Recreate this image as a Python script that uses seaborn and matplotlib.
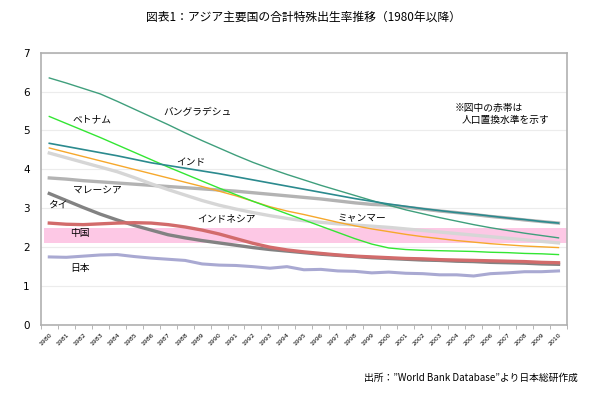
import matplotlib
matplotlib.use("Agg")
import matplotlib.pyplot as plt
import numpy as np
import pandas as pd
import seaborn as sns

# data: total fertility rate by country, 1980-2010
years = list(range(1980, 2011))

bangladesh = [6.35, 6.22, 6.08, 5.94, 5.75, 5.55, 5.35, 5.15, 4.94, 4.74, 4.55,
              4.36, 4.18, 4.02, 3.87, 3.73, 3.59, 3.46, 3.33, 3.20, 3.08,
              2.96, 2.86, 2.76, 2.67, 2.58, 2.50, 2.43, 2.36, 2.30, 2.24]
india = [4.67, 4.59, 4.51, 4.43, 4.35, 4.26, 4.17, 4.10, 4.03, 3.96, 3.89,
         3.81, 3.73, 3.65, 3.57, 3.49, 3.41, 3.33, 3.25, 3.18, 3.11,
         3.05, 2.99, 2.94, 2.89, 2.85, 2.80, 2.75, 2.71, 2.66, 2.62]
vietnam = [5.36, 5.18, 5.00, 4.82, 4.63, 4.44, 4.25, 4.06, 3.88, 3.70, 3.52,
           3.35, 3.18, 3.02, 2.86, 2.70, 2.54, 2.38, 2.22, 2.08, 1.98,
           1.94, 1.92, 1.91, 1.90, 1.89, 1.87, 1.86, 1.84, 1.83, 1.81]
myanmar = [4.55, 4.44, 4.33, 4.22, 4.11, 4.00, 3.89, 3.78, 3.67, 3.56, 3.44,
           3.32, 3.18, 3.04, 2.93, 2.84, 2.74, 2.64, 2.55, 2.47, 2.40,
           2.33, 2.27, 2.22, 2.17, 2.13, 2.09, 2.06, 2.03, 2.01, 1.99]
indonesia = [4.42, 4.30, 4.18, 4.06, 3.94, 3.79, 3.63, 3.48, 3.34, 3.20, 3.08,
             2.98, 2.89, 2.81, 2.74, 2.68, 2.64, 2.60, 2.57, 2.54, 2.51,
             2.47, 2.43, 2.39, 2.35, 2.31, 2.27, 2.23, 2.19, 2.15, 2.11]
malaysia = [3.78, 3.75, 3.71, 3.68, 3.65, 3.62, 3.59, 3.56, 3.53, 3.50, 3.47,
            3.44, 3.40, 3.36, 3.32, 3.28, 3.24, 3.19, 3.14, 3.10, 3.08,
            3.03, 2.98, 2.93, 2.89, 2.84, 2.79, 2.75, 2.70, 2.66, 2.62]
thailand = [3.38, 3.20, 3.02, 2.85, 2.70, 2.56, 2.44, 2.32, 2.24, 2.17, 2.11,
            2.05, 1.99, 1.94, 1.90, 1.86, 1.82, 1.79, 1.76, 1.73, 1.71,
            1.69, 1.67, 1.66, 1.64, 1.63, 1.61, 1.60, 1.59, 1.57, 1.56]
china = [2.62, 2.59, 2.58, 2.60, 2.62, 2.63, 2.62, 2.58, 2.52, 2.44, 2.34,
         2.22, 2.10, 2.00, 1.93, 1.88, 1.84, 1.80, 1.77, 1.75, 1.73,
         1.71, 1.70, 1.68, 1.67, 1.66, 1.65, 1.64, 1.63, 1.61, 1.60]
japan = [1.75, 1.74, 1.77, 1.80, 1.81, 1.76, 1.72, 1.69, 1.66, 1.57, 1.54,
         1.53, 1.50, 1.46, 1.50, 1.42, 1.43, 1.39, 1.38, 1.34, 1.36,
         1.33, 1.32, 1.29, 1.29, 1.26, 1.32, 1.34, 1.37, 1.37, 1.39]

# replacement level band
band_low, band_high = 2.1, 2.5

plt.rcParams['font.family'] = ['Noto Sans CJK JP', 'DejaVu Sans']

# (series, colour, width) - drawn bottom to top
series = [
    (japan, "#a9a9d2", 2.2),
    (malaysia, "#b3b3b3", 2.4),
    (indonesia, "#d6d6d6", 2.4),
    (thailand, "#828282", 2.4),
    (china, "#d26b6b", 2.4),
    (myanmar, "#f6a82c", 1.0),
    (vietnam, "#33e633", 1.0),
    (bangladesh, "#3f9f7c", 1.0),
    (india, "#2b8a8e", 1.2),
]

fig = plt.figure(figsize=(6, 3.93), dpi=100)
ax = fig.add_axes([0.068, 0.173, 0.877, 0.693])

ax.fill_between([1979.7, 2010.5], band_low, band_high, color="#fdc8e5", lw=0, zorder=1)

for vals, col, lw in series:
    sns.lineplot(x=years, y=vals, color=col, linewidth=lw, ax=ax, zorder=3)

ax.set_xlim(1979.5, 2010.5)
ax.set_ylim(0, 7)
ax.set_yticks(range(0, 8))
ax.set_yticklabels([str(i) for i in range(0, 8)], fontsize=7.5, family=['DejaVu Sans'])
ax.set_xticks(years)
ax.set_xticklabels([str(y) for y in years], rotation=45, ha='right', rotation_mode='anchor',
                   fontsize=4.5, family=['DejaVu Sans'])
ax.set_xticks(np.arange(1979.5, 2011, 1), minor=True)
ax.tick_params(axis='x', which='major', length=0, pad=5)
ax.tick_params(axis='x', which='minor', length=3, color="#aaaaaa")
ax.tick_params(axis='y', length=0, pad=8)
ax.yaxis.grid(True, color="#ececec", lw=0.8)
ax.set_axisbelow(True)
for s in ax.spines.values():
    s.set_color("#b0b0b0")
    s.set_linewidth(1.2)
ax.set_xlabel("")
ax.set_ylabel("")

# labels for each line
fs = 7
ax.text(1986.7, 5.46, "バングラデシュ", fontsize=fs, va='center')
ax.text(1981.35, 5.28, "ベトナム", fontsize=fs, va='center')
ax.text(1987.5, 4.18, "インド", fontsize=fs, va='center')
ax.text(1981.4, 3.49, "マレーシア", fontsize=fs, va='center')
ax.text(1979.95, 3.10, "タイ", fontsize=fs, va='center')
ax.text(1981.25, 2.36, "中国", fontsize=fs, va='center')
ax.text(1981.25, 1.46, "日本", fontsize=fs, va='center')
ax.text(1988.7, 2.74, "インドネシア", fontsize=fs, va='center')
ax.text(1997.0, 2.74, "ミャンマー", fontsize=fs, va='center')
ax.text(2003.9, 5.59, "※図中の赤帯は", fontsize=fs, va='center')
ax.text(2004.3, 5.26, "人口置換水準を示す", fontsize=fs, va='center')

fig.text(0.505, 0.955, "図表1：アジア主要国の合計特殊出生率推移（1980年以降）",
         ha='center', va='center', fontsize=8.5)
fig.text(0.963, 0.038, "出所：\u201dWorld Bank Database\u201dより日本総研作成",
         ha='right', va='center', fontsize=7)

fig.savefig("out.png", dpi=100)
